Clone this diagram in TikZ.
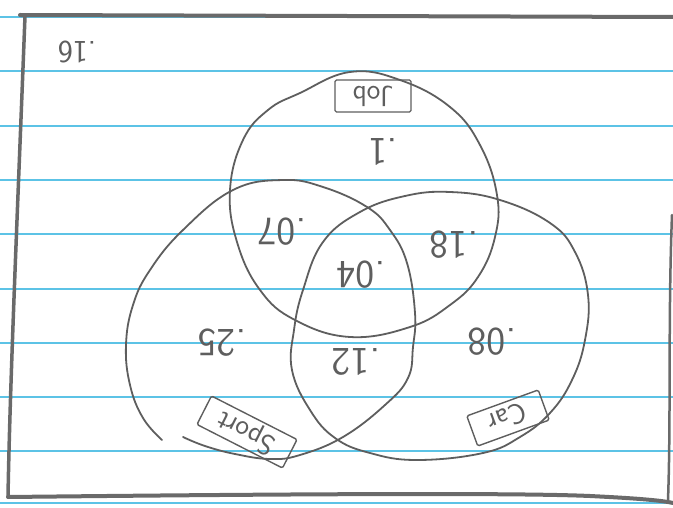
\documentclass[tikz,border=0pt]{standalone}
\definecolor{pencil}{HTML}{5E5E5E}
\definecolor{rule}{HTML}{5CC3E6}
\definecolor{frame}{HTML}{6A6A6A}
\begin{document}
\begin{tikzpicture}[x=1pt,y=-1pt,
  pen/.style={draw=pencil,line width=1.8pt,line cap=round,line join=round},
  num/.style={text=pencil,font=\sffamily\fontsize{40}{44}\selectfont,rotate=180,inner sep=0pt},
  tag/.style={draw=pencil,line width=1.4pt,text=pencil,font=\sffamily\fontsize{29}{32}\selectfont,inner sep=1pt,rounded corners=1.5pt,minimum height=32pt}]
\useasboundingbox (0,0) rectangle (673,508);
\fill[white] (0,0) rectangle (673,508);
% ruled lines
\foreach \yy in {17,71,126,180,234,289,343,397,451,503}
  \draw[rule,line width=1.5pt] (0,\yy) -- (673,\yy);
% frame
\draw[frame,line width=4pt,line cap=round,line join=round]
  (20,15) -- (673,17);
\draw[frame,line width=3.5pt,line cap=round]
  (25,16) .. controls (18,200) and (10,380) .. (8,497);
\draw[frame,line width=4pt,line cap=round]
  (8,497) .. controls (200,495) and (500,492) .. (590,496) .. controls (630,498) and (660,500) .. (673,503);
\draw[frame,line width=2.5pt,line cap=round]
  (672,215) .. controls (668,320) and (671,420) .. (668,500);
% Job circle
\draw[pen] plot[smooth cycle,tension=0.7] coordinates {
  (300,93) (350,72) (400,80) (450,107) (480,145) (497,195) (495,237)
  (478,277) (450,305) (410,327) (350,337) (295,320) (260,290)
  (237,242) (230,190) (243,140) (268,110)};
% Sport circle (open)
\draw[pen] plot[smooth,tension=0.7] coordinates {
  (162,440) (143,418) (130,385) (126,345) (133,305) (150,270) (183,230)
  (233,190) (283,180) (323,187) (367,207) (390,230) (407,263) (415,313)
  (413,347) (408,378) (385,405) (343,437) (300,455) (270,459) (235,454)
  (205,446) (183,437)};
% Car circle
\draw[pen] plot[smooth cycle,tension=0.7] coordinates {
  (292,370) (294,330) (303,290) (323,242) (360,212) (405,196) (450,192)
  (500,200) (550,223) (575,252) (588,295) (585,340) (572,380) (550,413)
  (520,437) (483,453) (417,460) (370,453) (335,438) (310,410)};
% labels
\node[num,font=\sffamily\fontsize{32}{36}\selectfont] (n16) at (77,52) {.16};
\node[tag,rotate=180,minimum width=76pt] (job) at (373,96) {Job};
\node[num] (n1) at (383,152) {.1};
\node[num] (n07) at (282,232) {.07};
\node[num] (n04) at (361,275) {.04};
\node[num] (n18) at (454,245) {.18};
\node[num] (n25) at (222,343) {.25};
\node[num] (n12) at (356,362) {.12};
\node[num] (n08) at (492,342) {.08};
\node[tag,rotate=153,minimum width=96pt] (sport) at (247,432) {Sport};
\node[tag,rotate=200,minimum width=76pt] (car) at (508,418) {Car};
\end{tikzpicture}
\end{document}
